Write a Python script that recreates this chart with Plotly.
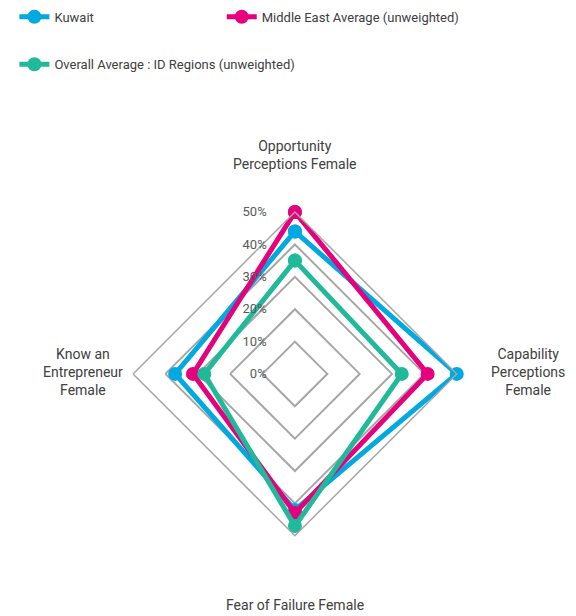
import plotly.graph_objects as go

categories = ["Opportunity Perceptions Female", "Capability Perceptions Female",
              "Fear of Failure Female", "Know an Entrepreneur Female"]
category_labels = ["Opportunity<br>Perceptions Female", "Capability<br>Perceptions<br>Female",
                   "Fear of Failure Female", "Know an<br>Entrepreneur<br>Female"]
kuwait = [44, 50, 42, 37]
middle_east = [50, 41, 43, 31.5]
overall = [35, 33, 47, 28]
tick_vals = [0, 10, 20, 30, 40, 50]
tick_text = ["0%", "10%", "20%", "30%", "40%", "50%"]

FONT = "Roboto, sans-serif"

def closed(v):
    return v + v[:1]

fig = go.Figure()
series = [
    ("Kuwait", kuwait, "#00a9e0", "legend"),
    ("Middle East Average (unweighted)", middle_east, "#e5007d", "legend3"),
    ("Overall Average : ID Regions (unweighted)", overall, "#20b99a", "legend2"),
]
for name, vals, col, leg in series:
    fig.add_trace(go.Scatterpolar(
        r=closed(vals), theta=closed(categories), name=name,
        mode="lines+markers", line=dict(color=col, width=5),
        marker=dict(size=14, color=col), legend=leg, cliponaxis=False))

# category labels placed like the original (centred multi-line text)
label_pos = [(0.512, 0.748), (0.917, 0.396), (0.512, 0.018), (0.144, 0.396)]
for txt, (x, y) in zip(category_labels, label_pos):
    fig.add_annotation(x=x, y=y, xref="paper", yref="paper", text=txt,
                       showarrow=False, align="center", xanchor="center", yanchor="middle",
                       font=dict(size=14, color="#404040"))

pad = "\u00a0" * 8  # push the % labels off the axis, like the original
legend_font = dict(size=13, color="#404040")
fig.update_layout(
    width=576, height=616,
    margin=dict(l=0, r=0, t=0, b=0),
    paper_bgcolor="white", plot_bgcolor="white",
    font=dict(family=FONT, size=14, color="#404040"),
    showlegend=True,
    polar=dict(
        domain=dict(x=[0.231, 0.793], y=[0.13, 0.656]),
        gridshape="linear",
        bgcolor="white",
        radialaxis=dict(range=[0, 50], tickvals=tick_vals, ticktext=[t + pad for t in tick_text],
                        angle=90, tickangle=90, side="counterclockwise",
                        showline=False, ticks="", gridcolor="#a6a6a6", gridwidth=1.5,
                        tickfont=dict(size=13, color="#595959")),
        angularaxis=dict(rotation=90, direction="clockwise", showgrid=False,
                         showline=True, linecolor="#a6a6a6", linewidth=1.5, ticks="",
                         showticklabels=False),
    ),
    legend=dict(orientation="h", x=0.025, y=0.997, xanchor="left", yanchor="top", font=legend_font),
    legend3=dict(orientation="h", x=0.385, y=0.997, xanchor="left", yanchor="top", font=legend_font),
    legend2=dict(orientation="h", x=0.025, y=0.92, xanchor="left", yanchor="top", font=legend_font),
)

fig.write_html("out.html", config={"displayModeBar": False},
               post_script="document.body.style.margin='0';")
